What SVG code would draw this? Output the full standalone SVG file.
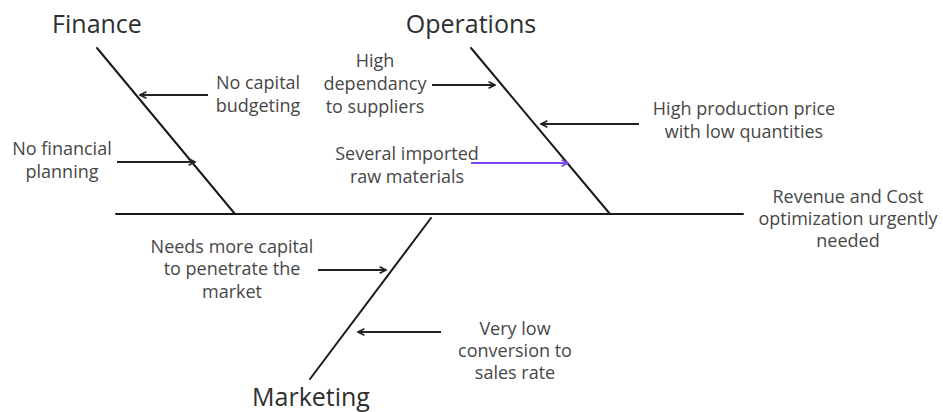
<svg xmlns="http://www.w3.org/2000/svg" width="943" height="412" viewBox="0 0 943 412">
  <style>
    .bone { stroke: #1a1a1a; stroke-width: 2; fill: none; stroke-linecap: round; }
    .cause { stroke: #222; stroke-width: 2; fill: none; marker-end: url(#head); }
    .cause-hl { stroke: #7b45ee; stroke-width: 2; fill: none; marker-end: url(#head-hl); }
    .title { font-family: "Open Sans", "Liberation Sans", sans-serif; font-size: 25px; fill: #2e2e2e; text-anchor: middle; }
    .label { font-family: "Open Sans", "Liberation Sans", sans-serif; font-size: 18px; fill: #474747; text-anchor: middle; }
  </style>
  <defs>
    <marker id="head" viewBox="0 0 10 10" refX="9" refY="5" markerWidth="8" markerHeight="8" markerUnits="userSpaceOnUse" orient="auto">
      <path d="M1,1 L9,5 L1,9" fill="none" stroke="#222" stroke-width="2"/>
    </marker>
    <marker id="head-hl" viewBox="0 0 10 10" refX="9" refY="5" markerWidth="8" markerHeight="8" markerUnits="userSpaceOnUse" orient="auto">
      <path d="M1,1 L9,5 L1,9" fill="none" stroke="#7b45ee" stroke-width="2"/>
    </marker>
  </defs>

  <g id="connectors">
    <!-- spine and category bones -->
    <line class="bone" x1="116" y1="214" x2="743" y2="214"/>
    <line class="bone" x1="97" y1="48" x2="235" y2="214"/>
    <line class="bone" x1="471" y1="48" x2="610" y2="214"/>
    <line class="bone" x1="431" y1="218" x2="310" y2="379"/>
    <!-- cause arrows -->
    <line class="cause" x1="208" y1="95" x2="140" y2="95"/>
    <line class="cause" x1="117" y1="162" x2="195" y2="162"/>
    <line class="cause" x1="432" y1="85" x2="495" y2="85"/>
    <line class="cause" x1="639" y1="124" x2="541" y2="124"/>
    <line class="cause-hl" x1="471" y1="163" x2="568" y2="163"/>
    <line class="cause" x1="318" y1="270" x2="386" y2="270"/>
    <line class="cause" x1="441" y1="332" x2="358" y2="332"/>
  </g>

  <g id="finance">
    <text class="title" x="97" y="33">Finance</text>
  </g>
  <g id="operations">
    <text class="title" x="471" y="33">Operations</text>
  </g>
  <g id="marketing">
    <text class="title" x="311" y="406">Marketing</text>
  </g>
  <g id="effect">
    <text class="label" x="848" y="203">Revenue and Cost</text>
    <text class="label" x="848" y="225">optimization urgently</text>
    <text class="label" x="848" y="247">needed</text>
  </g>

  <g id="no-capital-budgeting">
    <text class="label" x="258" y="89">No capital</text>
    <text class="label" x="258" y="112">budgeting</text>
  </g>
  <g id="no-financial-planning">
    <text class="label" x="62" y="155">No financial</text>
    <text class="label" x="62" y="178">planning</text>
  </g>
  <g id="supplier-dependancy">
    <text class="label" x="375" y="67">High</text>
    <text class="label" x="375" y="90">dependancy</text>
    <text class="label" x="375" y="113">to suppliers</text>
  </g>
  <g id="production-price">
    <text class="label" x="744" y="115">High production price</text>
    <text class="label" x="744" y="138">with low quantities</text>
  </g>
  <g id="imported-materials">
    <text class="label" x="407" y="160">Several imported</text>
    <text class="label" x="407" y="183">raw materials</text>
  </g>
  <g id="capital-penetration">
    <text class="label" x="232" y="253">Needs more capital</text>
    <text class="label" x="232" y="275">to penetrate the</text>
    <text class="label" x="232" y="298">market</text>
  </g>
  <g id="low-conversion">
    <text class="label" x="515" y="335">Very low</text>
    <text class="label" x="515" y="357">conversion to</text>
    <text class="label" x="515" y="379">sales rate</text>
  </g>
</svg>
